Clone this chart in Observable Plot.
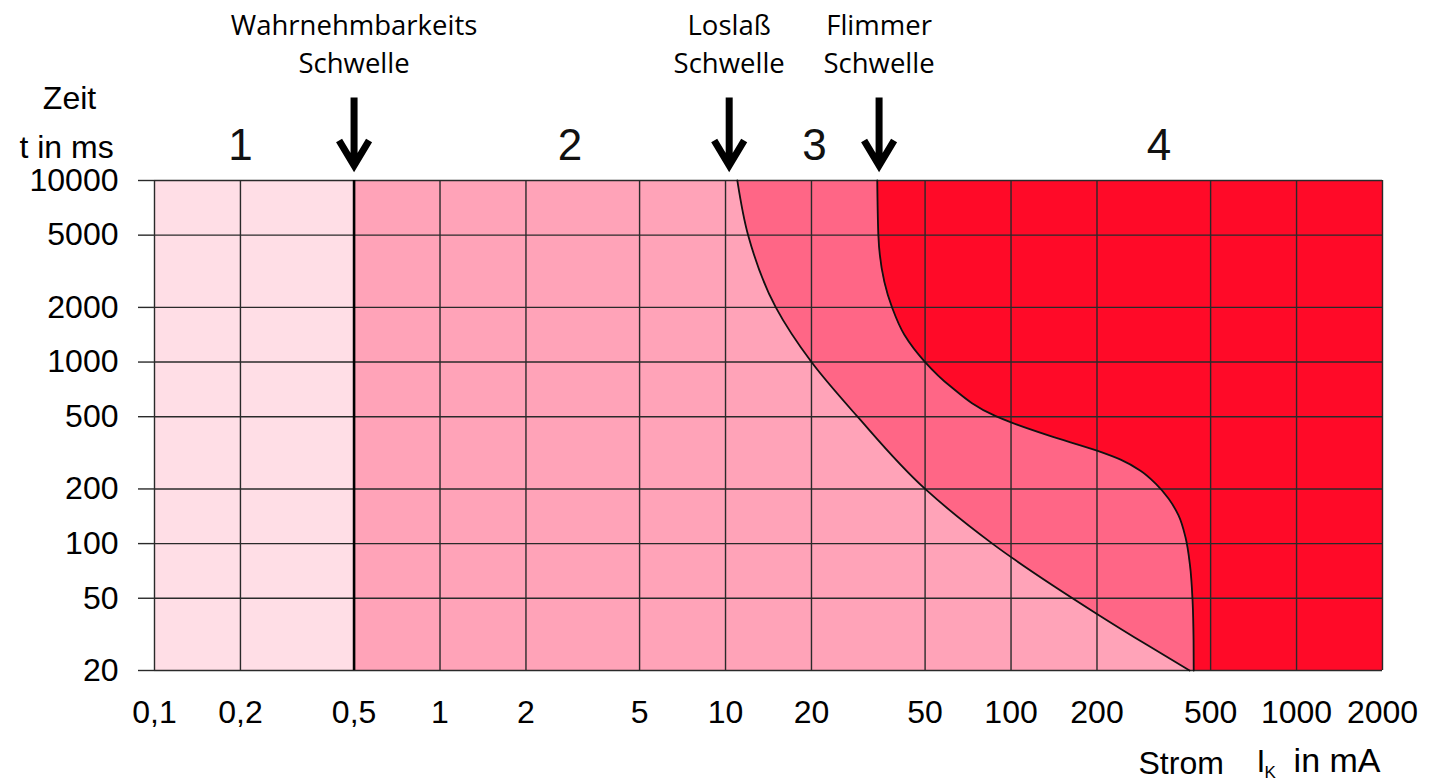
<!DOCTYPE html>
<html><head><meta charset="utf-8">
<script src="https://cdn.jsdelivr.net/npm/d3@7"></script>
<script src="https://cdn.jsdelivr.net/npm/@observablehq/plot@0.6"></script>
<style>
html,body{margin:0;padding:0;background:#fff;}
#chart{position:absolute;left:0;top:0;}
</style>
</head><body><div id="chart"></div>
<script>
// Axis ticks
const xTicks = [0.1, 0.2, 0.5, 1, 2, 5, 10, 20, 50, 100, 200, 500, 1000, 2000];
const yTicks = [20, 50, 100, 200, 500, 1000, 2000, 5000, 10000];

// Curve "Loslaß-Schwelle" (current in mA, time in ms)
const c1Current = [11, 12, 15, 20, 29, 50, 86, 200, 300, 422];
const c1Time    = [10000, 5000, 2000, 1000, 500, 200, 100, 41, 27.6, 20];

// Curve "Flimmer-Schwelle"
const c2Current = [34, 34.3, 38.3, 42.3, 50, 61, 88, 100, 136, 200, 242, 284, 321, 356, 386, 408.5, 423.6, 432.3, 435.8, 436.3];
const c2Time    = [10000, 5000, 2000, 1413, 1000, 740, 505, 465, 393, 325, 290, 252, 214, 177, 143, 108, 75.6, 48.5, 29.2, 20];

// Perception threshold (mA)
const perception = 0.5;
const zoneLabels = ["1", "2", "3", "4"];
const zoneLabelX = [0.2, 2.85, 20.5, 330];
const zoneColors = ["#FFDEE6", "#FFA3B8", "#FF6686", "#FF0A28"];

// Threshold annotations
const thresholdNames = ["Wahrnehmbarkeits\nSchwelle", "Loslaß\nSchwelle", "Flimmer\nSchwelle"];
const thresholdX = [0.5, 10.3, 34.5];

const c1 = c1Current.map((c, i) => ({i: c, t: c1Time[i]}));
const c2 = c2Current.map((c, i) => ({i: c, t: c2Time[i]}));
const thresholds = thresholdX.map((x, k) => ({x, name: thresholdNames[k]}));
const zones = zoneLabels.map((l, k) => ({label: l, x: zoneLabelX[k]}));

const xMin = xTicks[0], xMax = xTicks[xTicks.length - 1];
const yMin = yTicks[0], yMax = yTicks[yTicks.length - 1];

const arrowShape = {
  draw(context, l) {
    context.moveTo(0, 0);
    context.lineTo(0, -l);
    context.moveTo(-15, 25 - l);
    context.lineTo(0, -l);
    context.lineTo(15, 25 - l);
  }
};

const font = "Liberation Sans, Arial, sans-serif";
const gridColor = "#2a2a2a";

const chart = Plot.plot({
  width: 1447,
  height: 781,
  marginLeft: 154,
  marginRight: 65,
  marginTop: 180,
  marginBottom: 111,
  style: {fontFamily: font, fontSize: "32px", background: "white", overflow: "visible"},
  x: {type: "log", domain: [xMin, xMax]},
  y: {type: "log", domain: [yMin, yMax]},
  marks: [
    Plot.rect([{x1: xMin, x2: perception}], {x1: "x1", x2: "x2", y1: yMin, y2: yMax, fill: zoneColors[0]}),
    Plot.rect([{x1: perception, x2: xMax}], {x1: "x1", x2: "x2", y1: yMin, y2: yMax, fill: zoneColors[1]}),
    Plot.areaX(c1, {y: "t", x1: "i", x2: xMax, fill: zoneColors[2], curve: "monotone-y"}),
    Plot.areaX(c2, {y: "t", x1: "i", x2: xMax, fill: zoneColors[3], curve: "monotone-y"}),
    Plot.ruleY(yTicks, {stroke: gridColor, strokeWidth: 1.4}),
    Plot.ruleX(xTicks.filter(d => d !== perception), {y1: yMin, y2: yMax, stroke: gridColor, strokeWidth: 1.4}),
    Plot.ruleX([perception], {y1: yMin, y2: yMax, stroke: "#000", strokeWidth: 2.6}),
    Plot.line(c1, {x: "i", y: "t", curve: "monotone-y", stroke: "#111", strokeWidth: 1.8}),
    Plot.line(c2, {x: "i", y: "t", curve: "monotone-y", stroke: "#111", strokeWidth: 1.8}),
    Plot.axisY({ticks: yTicks, tickSize: 16, tickPadding: 20, text: d => String(d), label: null,
      fontSize: 32, stroke: gridColor, strokeWidth: 1.4}),
    Plot.axisX({ticks: xTicks, tickSize: 0, tickPadding: 30, text: d => String(d).replace(".", ","),
      label: null, fontSize: 32}),
    Plot.vector(thresholds, {x: "x", y: yMax, length: 68, rotate: 180, anchor: "end", shape: arrowShape,
      stroke: "#000", strokeWidth: 7, strokeLinejoin: "miter", strokeLinecap: "butt", dy: -15}),
    Plot.text(thresholds, {x: "x", text: "name", frameAnchor: "top", dy: -139, lineAnchor: "middle",
      lineHeight: 1.4, fontSize: 27.5, fontFamily: "Open Sans, Noto Sans, sans-serif", fill: "#000"}),
    Plot.text(zones, {x: "x", text: "label", frameAnchor: "top", dy: -35, lineAnchor: "middle", fontSize: 44, fill: "#111"}),
    Plot.text(["Zeit"], {text: d => d, frameAnchor: "top-left", dx: -85, dy: -82, textAnchor: "middle", lineAnchor: "middle", fontSize: 32}),
    Plot.text(["t in ms"], {text: d => d, frameAnchor: "top-left", dx: -88, dy: -33, textAnchor: "middle", lineAnchor: "middle", fontSize: 32}),
    Plot.text(["Strom"], {text: d => d, frameAnchor: "bottom-right", dx: -244, dy: 93, textAnchor: "start", lineAnchor: "middle", fontSize: 32}),
    Plot.text(["I"], {text: d => d, frameAnchor: "bottom-right", dx: -126, dy: 91, textAnchor: "start", lineAnchor: "middle", fontSize: 32}),
    Plot.text(["K"], {text: d => d, frameAnchor: "bottom-right", dx: -118, dy: 102, textAnchor: "start", lineAnchor: "middle", fontSize: 17}),
    Plot.text(["in mA"], {text: d => d, frameAnchor: "bottom-right", dx: -2, dy: 91, textAnchor: "end", lineAnchor: "middle", fontSize: 34})
  ]
});
document.getElementById("chart").appendChild(chart);
</script>
</body></html>
